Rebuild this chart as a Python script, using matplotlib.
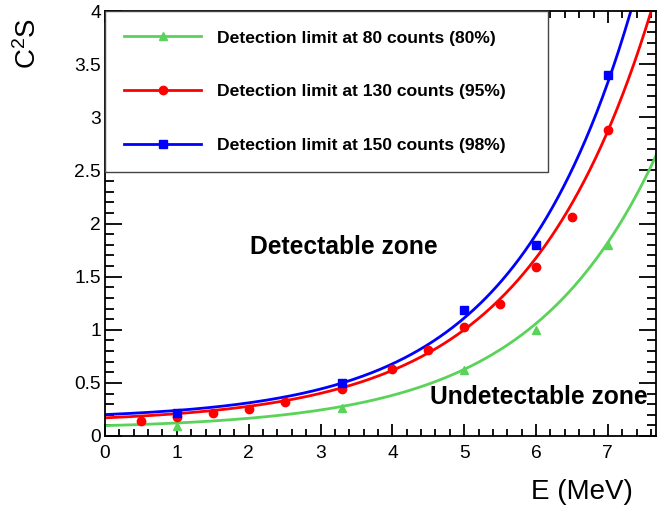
import numpy as np
import matplotlib
matplotlib.use("Agg")
import matplotlib.pyplot as plt
from matplotlib.ticker import MultipleLocator, FuncFormatter

plt.rcParams['font.family'] = ['Liberation Sans', 'DejaVu Sans']
plt.rcParams['mathtext.fontset'] = 'custom'
plt.rcParams['mathtext.rm'] = 'Liberation Sans'
plt.rcParams['mathtext.it'] = 'Liberation Sans'

# ---- data ----
labels = ["Detection limit at 80 counts (80%)",
          "Detection limit at 130 counts (95%)",
          "Detection limit at 150 counts (98%)"]
colors = ["#5ad35a", "#ff0000", "#0000ff"]
markers = ["^", "o", "s"]

energy_80 = [1, 3.3, 5, 6, 7]
c2s_80 = [0.094, 0.26, 0.62, 1.0, 1.8]

energy_130 = [0.5, 1, 1.5, 2, 2.5, 3.3, 4, 4.5, 5, 5.5, 6, 6.5, 7]
c2s_130 = [0.144, 0.18, 0.22, 0.254, 0.32, 0.44, 0.63, 0.81, 1.03, 1.24, 1.59, 2.06, 2.88]

energy_150 = [1, 3.3, 5, 6, 7]
c2s_150 = [0.22, 0.50, 1.19, 1.80, 3.40]

# fit parameters (a + b*exp(c*E))
fit_80 = [0.065, 0.0325, 0.57]
fit_130 = [0.12, 0.0509, 0.57]
fit_150 = [0.154, 0.0476, 0.60]

xmax = 7.67
ymax = 4.0

fig = plt.figure(figsize=(6.58, 5.13), dpi=100)
ax = fig.add_axes([105/658, 1-436/513, (656-105)/658, (436-11)/513])

series = [(energy_80, c2s_80, fit_80),
          (energy_130, c2s_130, fit_130),
          (energy_150, c2s_150, fit_150)]
ms = [5.5, 6, 5.5]
xs = np.linspace(0, xmax, 400)
handles = []
for (e, c, p), col, mk, lab, m in zip(series, colors, markers, labels, ms):
    yfit = p[0] + p[1]*np.exp(p[2]*xs)
    ax.plot(xs, yfit, color=col, lw=2.0, zorder=2)
    ax.plot(e, c, linestyle='none', marker=mk, color=col, ms=m, zorder=3)
    h, = ax.plot([], [], color=col, lw=2.0, marker=mk, ms=m, label=lab)
    handles.append(h)

ax.set_xlim(0, xmax)
ax.set_ylim(0, ymax)

ax.xaxis.set_major_locator(MultipleLocator(1))
ax.xaxis.set_minor_locator(MultipleLocator(0.2))
ax.yaxis.set_major_locator(MultipleLocator(0.5))
ax.yaxis.set_minor_locator(MultipleLocator(0.1))
ax.yaxis.set_major_formatter(FuncFormatter(lambda v, p: f"{v:g}"))
ax.xaxis.set_major_formatter(FuncFormatter(lambda v, p: f"{v:g}"))

ax.tick_params(axis='both', which='both', direction='in', top=True, right=True,
               width=1.3, color='black', labelsize=13.8)
ax.tick_params(axis='x', which='major', length=8.4, pad=6.5)
ax.tick_params(axis='x', which='minor', length=4.8)
ax.tick_params(axis='y', which='major', length=12.5, pad=3)
ax.tick_params(axis='y', which='minor', length=6.5)
for s in ax.spines.values():
    s.set_linewidth(1.3)
    s.set_color('black')

leg = ax.legend(handles=handles, loc='upper left', bbox_to_anchor=(0.0, 1.0, 0.804, 0.0),
                mode='expand', borderaxespad=0, frameon=True, fancybox=False,
                edgecolor='#444444', framealpha=1, numpoints=1,
                prop={'weight': 'bold', 'size': 12.6},
                handlelength=4.4, handletextpad=0.9, labelspacing=2.2,
                borderpad=1.1)
leg.get_frame().set_linewidth(1.0)
leg.set_zorder(5)

ax.text(2.02, 1.78, "Detectable zone", fontsize=17.7, fontweight='bold',
        ha='left', va='center')
ax.text(4.53, 0.37, "Undetectable zone", fontsize=17.7, fontweight='bold',
        ha='left', va='center', zorder=6)

fig.text(28/658, 1-18/513, r"C$^{2}$S", rotation=90, ha='center', va='top', fontsize=20)
fig.text(633/658, 1-492/513, "E (MeV)", ha='right', va='center', fontsize=20)

fig.savefig("out.png", dpi=100)
